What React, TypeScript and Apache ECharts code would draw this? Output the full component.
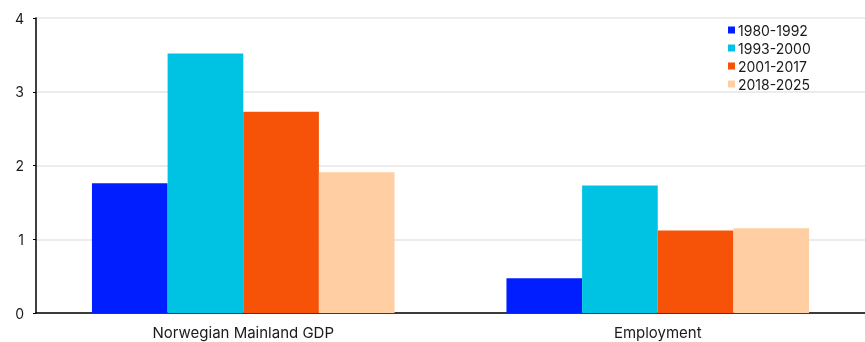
import React, { useEffect, useRef } from "react";
import * as echarts from "echarts";

const categories = ["Norwegian Mainland GDP", "Employment"];
const seriesNames = ["1980-1992", "1993-2000", "2001-2017", "2018-2025"];
const s1980 = [1.76, 0.47];
const s1993 = [3.52, 1.73];
const s2001 = [2.73, 1.12];
const s2018 = [1.91, 1.15];
const colors = ["#001EFF", "#00C3E3", "#F75308", "#FFCFA3"];

export default function App() {
  const ref = useRef<HTMLDivElement>(null);
  useEffect(() => {
    if (!ref.current) return;
    const chart = echarts.init(ref.current, null, { renderer: "svg" });
    const data = [s1980, s1993, s2001, s2018];
    chart.setOption({
      animation: false,
      textStyle: { fontFamily: "Inter" },
      grid: { left: 36, right: 0, top: 18, bottom: 29, containLabel: false },
      legend: {
        orient: "vertical",
        left: 723,
        top: 18,
        itemWidth: 7,
        itemHeight: 7,
        itemGap: 4,
        icon: "rect",
        textStyle: { fontSize: 14, color: "#1a1a1a", padding: [0, 0, 0, -2] },
        data: seriesNames,
      },
      xAxis: {
        type: "category",
        data: categories,
        axisLine: { show: true, lineStyle: { color: "#000", width: 1.5 } },
        axisTick: { show: false },
        axisLabel: { fontSize: 15, color: "#1a1a1a", margin: 12 },
      },
      yAxis: {
        type: "value",
        min: 0,
        max: 4,
        interval: 1,
        axisLine: { show: true, lineStyle: { color: "#000", width: 1.5 } },
        axisTick: { show: true, length: 3, lineStyle: { color: "#000" } },
        axisLabel: { fontSize: 14, color: "#1a1a1a", margin: 12 },
        splitLine: { lineStyle: { color: "#e6e6e6", width: 1.5 } },
      },
      series: seriesNames.map((n, i) => ({
        name: n,
        type: "bar",
        data: data[i],
        itemStyle: { color: colors[i] },
        barGap: "0%",
        barCategoryGap: "27%",
      })),
    });
    return () => chart.dispose();
  }, []);
  return (
    <div
      ref={ref}
      style={{ position: "fixed", left: 0, top: 0, width: 865, height: 342 }}
    />
  );
}
